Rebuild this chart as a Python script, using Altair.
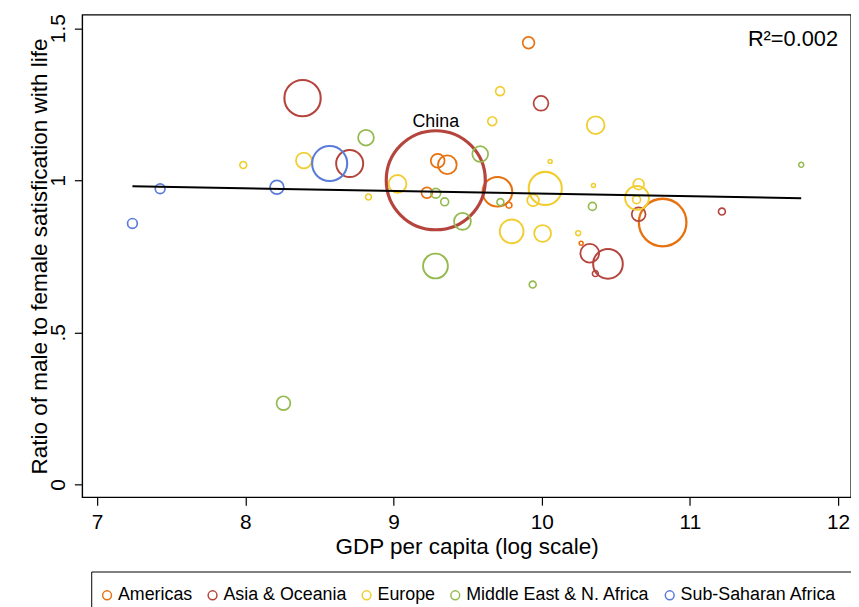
import altair as alt
import pandas as pd

# ---------------- data ----------------
regions = ["Americas", "Asia & Oceania", "Europe", "Middle East & N. Africa", "Sub-Saharan Africa"]
region_colors = ["#E8710F", "#B5443D", "#F1CD2F", "#94BA4F", "#5B7BD8"]

# log GDP per capita, male/female ratio, population (millions, sets bubble area)
am_gdp = [9.911, 9.298, 9.363, 9.225, 9.701, 9.779, 10.266, 10.816]
am_ratio = [1.452, 1.064, 1.051, 0.959, 0.962, 0.918, 0.793, 0.861]
am_pop = [19, 26, 48, 16, 120, 4.8, 2.1, 309]

as_gdp = [8.386, 8.704, 9.995, 9.285, 10.324, 10.447, 10.362, 10.654, 11.216]
as_ratio = [1.270, 1.055, 1.253, 1.000, 0.760, 0.725, 0.693, 0.888, 0.897]
as_pop = [180, 100, 30, 1340, 48, 120, 4.8, 26, 6.6]
as_name = ["", "", "", "China", "", "", "", "", ""]

eu_gdp = [7.986, 8.395, 8.831, 9.719, 9.666, 10.364, 10.057, 9.027, 10.024,
          9.942, 10.349, 9.797, 10.006, 10.246, 10.654, 10.643, 10.640]
eu_ratio = [1.050, 1.065, 0.945, 1.293, 1.194, 1.181, 1.062, 0.988, 0.973,
            0.934, 0.983, 0.832, 0.825, 0.826, 0.987, 0.942, 0.936]
eu_pop = [6.6, 34, 4.8, 11, 11, 43, 2.1, 43, 150, 19, 2.1, 77, 39, 3.4, 16, 77, 8.6]

me_gdp = [8.814, 9.585, 9.285, 9.345, 9.465, 9.721, 10.342, 9.283, 9.939, 11.751, 8.257]
me_ratio = [1.140, 1.086, 0.957, 0.929, 0.865, 0.928, 0.914, 0.718, 0.657, 1.051, 0.267]
me_pop = [34, 34, 13, 8.6, 39, 6.6, 8.6, 84, 6.6, 3.4, 26]

ss_gdp = [7.238, 7.425, 8.213, 8.569]
ss_ratio = [0.858, 0.972, 0.977, 1.055]
ss_pop = [13, 13, 26, 168]

# fitted line: ratio = fit_a + fit_b * gdp
fit_a = 1.0425
fit_b = -0.00864
r2_text = "R\u00b2=0.002"

x_ticks = [7, 8, 9, 10, 11, 12]
y_ticks = [0, 0.5, 1, 1.5]
y_tick_labels = ["0", ".5", "1", "1.5"]

# ---------------- tables ----------------
rows = []
for reg, g, r, p, names in [
    (regions[0], am_gdp, am_ratio, am_pop, None),
    (regions[1], as_gdp, as_ratio, as_pop, as_name),
    (regions[2], eu_gdp, eu_ratio, eu_pop, None),
    (regions[3], me_gdp, me_ratio, me_pop, None),
    (regions[4], ss_gdp, ss_ratio, ss_pop, None),
]:
    for i in range(len(g)):
        rows.append({"region": reg, "gdp": g[i], "ratio": r[i], "pop": p[i],
                     "name": names[i] if names else ""})
df = pd.DataFrame(rows)

xmin, xmax = df["gdp"].min(), df["gdp"].max()
fit_df = pd.DataFrame({"gdp": [xmin, xmax],
                       "ratio": [fit_a + fit_b * xmin, fit_a + fit_b * xmax]})
r2_df = pd.DataFrame({"gdp": [12.0], "ratio": [1.44], "t": [r2_text]})

FONT = "Liberation Sans"
W, H = 776, 487

xscale = alt.Scale(domain=[6.8997, 12.087], nice=False, zero=False)
yscale = alt.Scale(domain=[-0.0423, 1.544], nice=False, zero=False)

label_expr = " : ".join(
    f"datum.value == {v} ? '{l}'" for v, l in zip(y_ticks, y_tick_labels)
) + " : ''"

xaxis = alt.Axis(values=x_ticks, format="d", grid=False, domain=False,
                 tickSize=8, tickWidth=1.2, tickColor="black",
                 labelFontSize=21, labelPadding=7, labelColor="black",
                 title="GDP per capita (log scale)", titleFontSize=22.7,
                 titleFontWeight="normal", titleColor="black",
                 titleBaseline="alphabetic", titleY=57)
yaxis = alt.Axis(values=y_ticks, labelExpr=label_expr, grid=False, domain=False,
                 tickSize=8, tickWidth=1.2, tickColor="black",
                 labelFontSize=21, labelPadding=6, labelColor="black",
                 labelAngle=270, labelAlign="center", labelBaseline="bottom",
                 title="Ratio of male to female satisfication with life",
                 titleFontSize=22.7, titleFontWeight="normal", titleColor="black",
                 titleBaseline="alphabetic", titleAngle=270, titleAlign="center",
                 titleX=-36, titleY=H / 2)

points = alt.Chart(df).mark_point(shape="circle", filled=False, opacity=1).encode(
    x=alt.X("gdp:Q", scale=xscale, axis=xaxis),
    y=alt.Y("ratio:Q", scale=yscale, axis=yaxis),
    color=alt.Color("region:N",
                    scale=alt.Scale(domain=regions, range=region_colors),
                    legend=alt.Legend(title=None, orient="none", legendX=9, legendY=562,
                                      direction="horizontal", strokeColor="black",
                                      padding=15, labelFontSize=18, labelFont=FONT,
                                      labelColor="black", labelLimit=400,
                                      symbolSize=80, symbolStrokeWidth=1.5,
                                      symbolType="circle", symbolOffset=-8,
                                      labelOffset=2, columnPadding=11.5)),
    size=alt.Size("pop:Q", scale=alt.Scale(type="linear", domain=[0, 1340],
                                           range=[0, 10000]), legend=None),
    strokeWidth=alt.StrokeWidth("pop:Q", scale=alt.Scale(type="sqrt", domain=[0, 1340],
                                                         range=[1.5, 3.2]), legend=None),
)

fit = alt.Chart(fit_df).mark_line(color="black", strokeWidth=2).encode(
    x=alt.X("gdp:Q", scale=xscale),
    y=alt.Y("ratio:Q", scale=yscale),
)

china = alt.Chart(df).transform_filter(alt.datum.name != "").mark_text(
    fontSize=18, font=FONT, color="black", align="center",
    baseline="alphabetic", dy=-54
).encode(
    x=alt.X("gdp:Q", scale=xscale),
    y=alt.Y("ratio:Q", scale=yscale),
    text="name:N",
)

r2 = alt.Chart(r2_df).mark_text(
    fontSize=22, font=FONT, color="black", align="right", baseline="alphabetic"
).encode(
    x=alt.X("gdp:Q", scale=xscale),
    y=alt.Y("ratio:Q", scale=yscale),
    text="t:N",
)

chart = alt.layer(points, fit, china, r2).properties(
    width=W, height=H,
    autosize=alt.AutoSizeParams(type="none"),
    padding={"left": 75, "top": 4, "right": 0, "bottom": 113},
    background="white",
).configure(font=FONT).configure_view(
    stroke="black", strokeWidth=1.4
)

chart.save("out.html", embed_options={"renderer": "svg", "actions": False})
